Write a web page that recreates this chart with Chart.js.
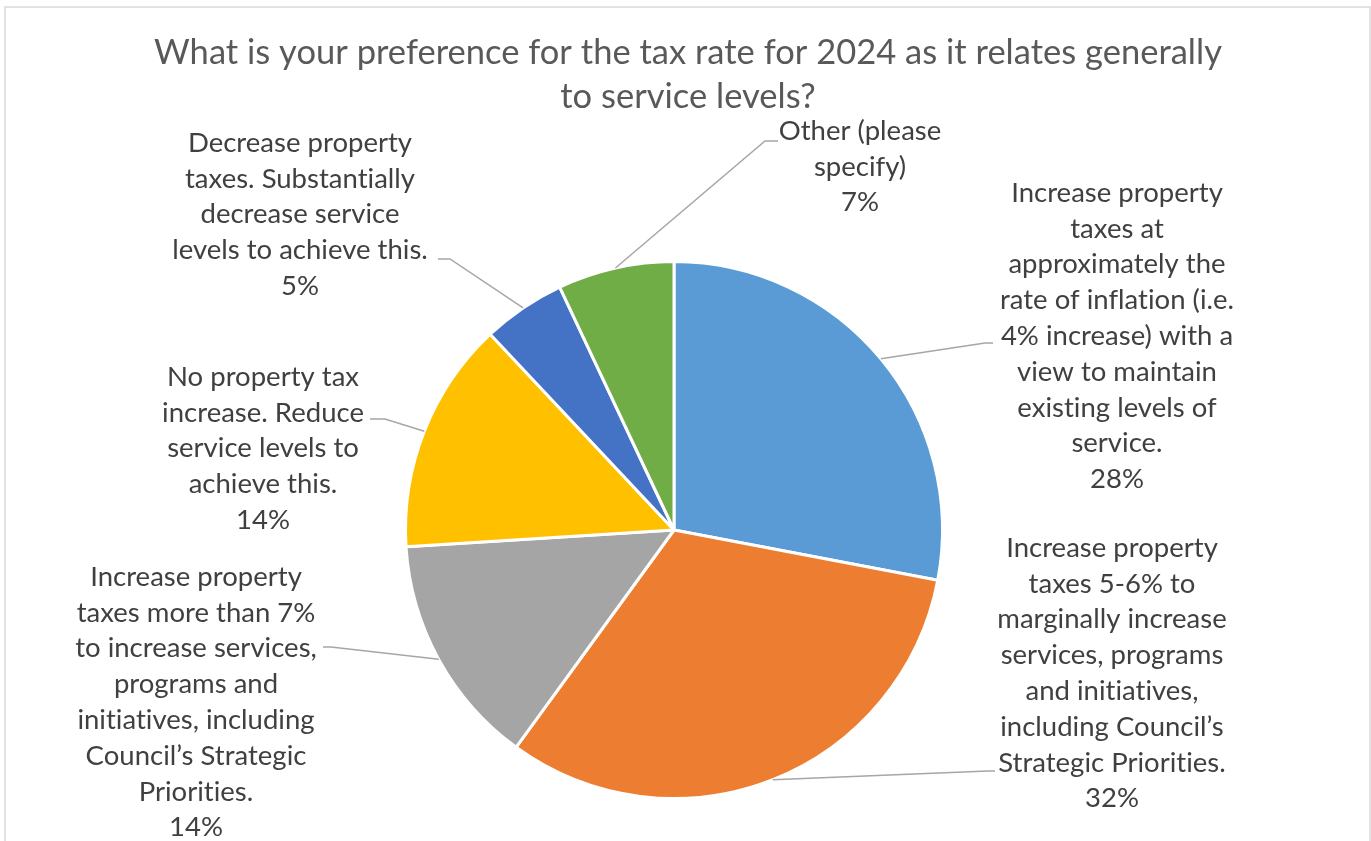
<!DOCTYPE html>
<html>
<head>
<meta charset="utf-8">
<title>Tax rate preference 2024</title>
<script src="https://cdn.jsdelivr.net/npm/chart.js@4.4.1/dist/chart.umd.min.js"></script>
<style>
  html, body { margin: 0; padding: 0; background: #fff; }
  canvas { display: block; }
</style>
</head>
<body>
<canvas id="pie" width="1371" height="841"></canvas>
<script>
// survey answers, clockwise from 12 o'clock
const categories = [
  ['Increase property', 'taxes at', 'approximately the', 'rate of inflation (i.e.', '4% increase) with a', 'view to maintain', 'existing levels of', 'service.'],
  ['Increase property', 'taxes 5-6% to', 'marginally increase', 'services, programs', 'and initiatives,', 'including Council\u2019s', 'Strategic Priorities.'],
  ['Increase property', 'taxes more than 7%', 'to increase services,', 'programs and', 'initiatives, including', 'Council\u2019s Strategic', 'Priorities.'],
  ['No property tax', 'increase. Reduce', 'service levels to', 'achieve this.'],
  ['Decrease property', 'taxes. Substantially', 'decrease service', 'levels to achieve this.'],
  ['Other (please', 'specify)']
];
const shares = [28, 32, 14, 14, 5, 7];
const sliceColors = ['#5b9bd5', '#ed7d31', '#a5a5a5', '#ffc000', '#4472c4', '#70ad47'];

const titleLines = ['What is your preference for the tax rate for 2024 as it relates generally', 'to service levels?'];

// where each data label sits (centre x, first line y) and where its leader line ends
const labelSpots = [
  { x: 1117, y: 193, elbow: [985, 343], end: [993, 343] },
  { x: 1112, y: 548, elbow: [988, 771], end: [995, 771] },
  { x: 196,  y: 577, elbow: [331, 647], end: [323, 647] },
  { x: 263,  y: 377, elbow: [385, 419], end: [370, 419] },
  { x: 300,  y: 143, elbow: [450, 259], end: [438, 259] },
  { x: 860,  y: 131, elbow: [765, 141], end: [778, 141] }
];

const labelFont = '27.5px Lato';
const labelLineHeight = 35.8;
const titleFont = '34.5px Lato';

// white page, thin grey chart frame and the two-line title
const framePlugin = {
  id: 'frame',
  beforeDraw(chart) {
    const ctx = chart.ctx;
    ctx.save();
    ctx.fillStyle = '#ffffff';
    ctx.fillRect(0, 0, chart.width, chart.height);
    ctx.strokeStyle = '#d9d9d9';
    ctx.lineWidth = 1.5;
    ctx.strokeRect(5, 7, 1365, 860);

    ctx.fillStyle = '#595959';
    ctx.font = titleFont;
    ctx.letterSpacing = '0.01px'; // keeps "ti" from joining into a ligature
    ctx.textAlign = 'center';
    ctx.textBaseline = 'middle';
    titleLines.forEach((t, k) => ctx.fillText(t, 688, 53 + k * 44));
    ctx.restore();
  }
};

// leader lines from each slice edge + wrapped labels with the percentage
const outsideLabels = {
  id: 'outsideLabels',
  afterDatasetsDraw(chart) {
    const ctx = chart.ctx;
    const meta = chart.getDatasetMeta(0);
    ctx.save();
    meta.data.forEach((arc, i) => {
      const spot = labelSpots[i];
      const mid = (arc.startAngle + arc.endAngle) / 2;
      const sx = arc.x + Math.cos(mid) * arc.outerRadius;
      const sy = arc.y + Math.sin(mid) * arc.outerRadius;

      ctx.strokeStyle = '#a6a6a6';
      ctx.lineWidth = 1.5;
      ctx.beginPath();
      ctx.moveTo(sx, sy);
      ctx.lineTo(spot.elbow[0], spot.elbow[1]);
      ctx.lineTo(spot.end[0], spot.end[1]);
      ctx.stroke();

      const lines = categories[i].concat([shares[i] + '%']);
      ctx.fillStyle = '#404040';
      ctx.font = labelFont;
      ctx.letterSpacing = '0.01px';
      ctx.textAlign = 'center';
      ctx.textBaseline = 'middle';
      lines.forEach((t, k) => ctx.fillText(t, spot.x, spot.y + k * labelLineHeight));
    });
    ctx.restore();
  }
};

const ctx = document.getElementById('pie').getContext('2d');
const pieChart = new Chart(ctx, {
  type: 'pie',
  data: {
    labels: categories,
    datasets: [{
      data: shares,
      backgroundColor: sliceColors,
      borderColor: '#ffffff',
      borderWidth: 3
    }]
  },
  options: {
    responsive: false,
    animation: false,
    events: [],
    layout: { padding: { top: 260, bottom: 41, left: 400, right: 423 } },
    plugins: {
      legend: { display: false },
      tooltip: { enabled: false },
      title: { display: false }
    }
  },
  plugins: [framePlugin, outsideLabels]
});
</script>
</body>
</html>
